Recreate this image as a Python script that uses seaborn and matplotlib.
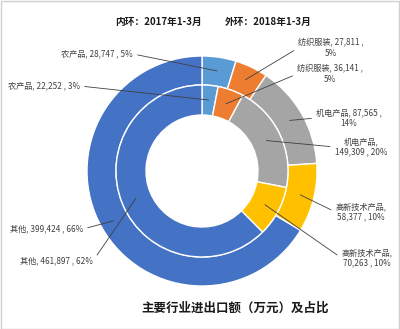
import matplotlib
matplotlib.use('Agg')
import numpy as np
import matplotlib.pyplot as plt
from matplotlib.patches import Rectangle
import seaborn as sns

# ---- data ----
categories = ['农产品', '纺织服装', '机电产品', '高新技术产品', '其他']
outer_2018 = [28747, 27811, 87565, 58377, 399424]
outer_pct = [5, 5, 14, 10, 66]
inner_2017 = [22252, 36141, 149309, 70263, 461897]
inner_pct = [3, 5, 20, 10, 62]
ring_titles = ['内环：2017年1-3月', '外环：2018年1-3月']
chart_title = '主要行业进出口额（万元）及占比'

# label line-break style: 0 single line, 1 break before pct, 2 break after category
outer_breaks = [0, 1, 1, 2, 0]
inner_breaks = [0, 1, 2, 2, 0]

sns.set_theme(style='white')
plt.rcParams['font.family'] = ['Noto Sans CJK SC', 'DejaVu Sans']
colors = sns.color_palette(['#5B9BD5', '#ED7D31', '#A5A5A5', '#FFC000', '#4472C4'])

W, H = 400, 329
cx, cy, R = 202, 171, 115  # pixel centre & outer radius

fig = plt.figure(figsize=(W / 100, H / 100), dpi=100)
fig.patch.set_facecolor('white')
ax = fig.add_axes([0, 0, 1, 1])

wo, _ = ax.pie(outer_2018, radius=1.0, startangle=90, counterclock=False,
               colors=colors,
               wedgeprops=dict(width=29 / R, edgecolor='white', linewidth=1.0))
wi, _ = ax.pie(inner_2017, radius=86 / R, startangle=90, counterclock=False,
               colors=colors,
               wedgeprops=dict(width=30 / R, edgecolor='white', linewidth=1.0))

ax.set_xlim((0 - cx) / R, (W - cx) / R)
ax.set_ylim((cy - H) / R, cy / R)
ax.set_aspect('auto')
ax.axis('off')


def px(x, y):
    return ((x - cx) / R, (cy - y) / R)


def make_label(cat, val, pct, brk):
    v = f"{val:,}"
    if brk == 0:
        return f"{cat}, {v} , {pct}%"
    if brk == 1:
        return f"{cat}, {v} ,\n{pct}%"
    return f"{cat},\n{v} , {pct}%"


# text anchor positions (pixels) and alignment
outer_pos = [(133, 54, 'right'), (331, 48, 'center'), (349, 118, 'center'),
             (361, 212, 'center'), (83, 229, 'right')]
inner_pos = [(80, 86, 'right'), (330, 74, 'center'), (361, 147, 'center'),
             (367, 258, 'center'), (93, 261, 'right')]

lab_color = '#404040'


def add_labels(wedges, vals, pcts, brks, positions, r_anchor):
    for w, cat, v, p, b, (tx, ty, ha) in zip(wedges, categories, vals, pcts, brks, positions):
        mid = np.deg2rad((w.theta1 + w.theta2) / 2)
        axy = (r_anchor * np.cos(mid), r_anchor * np.sin(mid))
        relpos = (1, 0.5) if ha == 'right' else (0, 0.5)
        ax.annotate(make_label(cat, v, p, b), xy=axy, xytext=px(tx, ty),
                    ha=ha, va='center', multialignment='center',
                    fontsize=5.9, color=lab_color, linespacing=1.2,
                    arrowprops=dict(arrowstyle='-', color=lab_color, lw=0.6,
                                    relpos=relpos, shrinkA=1, shrinkB=0),
                    annotation_clip=False)


add_labels(wo, outer_2018, outer_pct, outer_breaks, outer_pos, 0.88)
add_labels(wi, inner_2017, inner_pct, inner_breaks, inner_pos, 0.62)

# titles
fig.text(115 / W, 1 - 22 / H, ring_titles[0], ha='left', va='center',
         fontsize=7, fontweight='bold', color='#1a1a1a')
fig.text(225 / W, 1 - 22 / H, ring_titles[1], ha='left', va='center',
         fontsize=7, fontweight='bold', color='#1a1a1a')
fig.text(235 / W, 1 - 308 / H, chart_title, ha='center', va='center',
         fontsize=9, fontweight='bold', color='#1a1a1a')

# chart-area border
fig.add_artist(Rectangle((0.5 / W, 0.5 / H), 1 - 1.5 / W, 1 - 1.5 / H,
                         transform=fig.transFigure, fill=False,
                         edgecolor='#d0d0d0', linewidth=1.0))

fig.savefig('out.png', dpi=100, facecolor='white')
